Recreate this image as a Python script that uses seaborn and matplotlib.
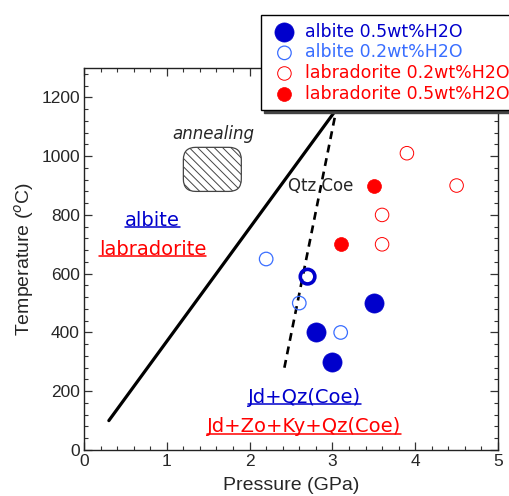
import matplotlib
matplotlib.use("Agg")
import matplotlib.pyplot as plt
from matplotlib.patches import FancyBboxPatch
from matplotlib.lines import Line2D
from matplotlib.ticker import MultipleLocator
import seaborn as sns
import pandas as pd

# ---- data ----
albite05_P = [3.5, 2.8, 3.0]
albite05_T = [500, 400, 300]
albite05_ring_P = [2.7]
albite05_ring_T = [590]
albite02_P = [2.2, 2.6, 3.1]
albite02_T = [650, 500, 400]
labr02_P = [3.9, 4.5, 3.6, 3.6]
labr02_T = [1010, 900, 800, 700]
labr05_P = [3.5, 3.1]
labr05_T = [900, 700]
albite_react_P = [0.3, 3.05]
albite_react_T = [100, 1160]
qtz_coe_P = [2.42, 3.07]
qtz_coe_T = [280, 1190]
anneal_P = [1.2, 1.9]
anneal_T = [880, 1030]

sns.set_style("ticks")
plt.rcParams['font.family'] = ['DejaVu Sans']
plt.rcParams['hatch.linewidth'] = 0.7
plt.rcParams['hatch.color'] = '#555555'

DBLUE = '#0000CC'
LBLUE = '#3A6EFF'
RED = '#FF0000'

fig = plt.figure(figsize=(5.10, 4.96), dpi=100)
ax = fig.add_axes([84/510, 1-450/496, (498-84)/510, (450-68)/496])

# reaction lines
sns.lineplot(x=albite_react_P, y=albite_react_T, ax=ax, color='black', lw=2.3, sort=False, zorder=2)
sns.lineplot(x=qtz_coe_P, y=qtz_coe_T, ax=ax, color='black', lw=1.9, sort=False,
             linestyle=(0, (3, 2.2)), zorder=2)

# annealing box
box = FancyBboxPatch((anneal_P[0], anneal_T[0]), anneal_P[1]-anneal_P[0], anneal_T[1]-anneal_T[0],
                     boxstyle="round,pad=0,rounding_size=0.15", mutation_aspect=280,
                     facecolor='white', edgecolor='#444444', lw=0.9, hatch='\\\\\\\\', zorder=2)
ax.add_patch(box)

# data points
sns.scatterplot(x=albite05_P, y=albite05_T, ax=ax, s=190, color=DBLUE, edgecolor=DBLUE,
                linewidth=0.5, label='albite 0.5wt%H2O', zorder=4)
sns.scatterplot(x=albite02_P, y=albite02_T, ax=ax, s=95, facecolor='none', edgecolor=LBLUE,
                linewidth=0.9, label='albite 0.2wt%H2O', zorder=4)
sns.scatterplot(x=labr02_P, y=labr02_T, ax=ax, s=95, facecolor='none', edgecolor=RED,
                linewidth=0.7, label='labradorite 0.2wt%H2O', zorder=4)
sns.scatterplot(x=labr05_P, y=labr05_T, ax=ax, s=100, color=RED, edgecolor=RED,
                linewidth=0.5, label='labradorite 0.5wt%H2O', zorder=4)
sns.scatterplot(x=albite05_ring_P, y=albite05_ring_T, ax=ax, s=110, facecolor='none',
                edgecolor=DBLUE, linewidth=2.6, zorder=4)

ax.set_xlim(0, 5)
ax.set_ylim(0, 1300)
ax.xaxis.set_major_locator(MultipleLocator(1))
ax.xaxis.set_minor_locator(MultipleLocator(0.2))
ax.yaxis.set_major_locator(MultipleLocator(200))
ax.yaxis.set_minor_locator(MultipleLocator(40))
ax.tick_params(which='both', direction='in', top=True, right=True, color='#333333')
ax.tick_params(which='major', length=6, width=0.9, labelsize=12.5, pad=3)
ax.tick_params(which='minor', length=3, width=0.8)
for lab in ax.get_xticklabels() + ax.get_yticklabels():
    lab.set_family('Liberation Sans')
for sp in ax.spines.values():
    sp.set_linewidth(1.0)
    sp.set_color('#222222')
ax.set_xlabel('Pressure (GPa)', fontsize=14, family='Liberation Sans', labelpad=6)
ax.set_ylabel('Temperature ($^{o}$C)', fontsize=14, family='Liberation Sans', labelpad=4)

# texts
ax.text(1.56, 1075, 'annealing', style='italic', fontsize=12, ha='center', va='center')
ax.text(2.86, 900, 'Qtz Coe', fontsize=12, ha='center', va='center', zorder=3)
under = []
under.append(ax.text(0.83, 782, 'albite', fontsize=14, color=DBLUE, ha='center', va='center'))
under.append(ax.text(0.83, 683, 'labradorite', fontsize=14, color=RED, ha='center', va='center'))
under.append(ax.text(2.66, 180, 'Jd+Qz(Coe)', fontsize=14, color=DBLUE, ha='center', va='center'))
under.append(ax.text(2.66, 79, 'Jd+Zo+Ky+Qz(Coe)', fontsize=14, color=RED, ha='center', va='center'))

# legend
handles, labels = ax.get_legend_handles_labels()
ax.get_legend().remove()
leg = fig.legend(handles, labels, loc='upper left', bbox_to_anchor=(261/510, 1-15/496),
                 frameon=True, fancybox=False, shadow={'color': '#444444', 'alpha': 1},
                 edgecolor='black', framealpha=1, fontsize=12.5, handletextpad=0.3,
                 labelspacing=0.15, borderpad=0.45, handlelength=1.8, borderaxespad=0)
leg.get_frame().set_linewidth(1.0)
for txt, c in zip(leg.get_texts(), [DBLUE, LBLUE, RED, RED]):
    txt.set_color(c)
leg.set_zorder(10)

# underlines
fig.canvas.draw()
r = fig.canvas.get_renderer()
for t in under:
    bb = t.get_window_extent(r)
    y = bb.y0 + 2.5
    fig.add_artist(Line2D([bb.x0 / fig.dpi / fig.get_figwidth(), bb.x1 / fig.dpi / fig.get_figwidth()],
                          [y / fig.dpi / fig.get_figheight()] * 2,
                          transform=fig.transFigure, color=t.get_color(), lw=1.1))

fig.savefig('out.png', dpi=100)
